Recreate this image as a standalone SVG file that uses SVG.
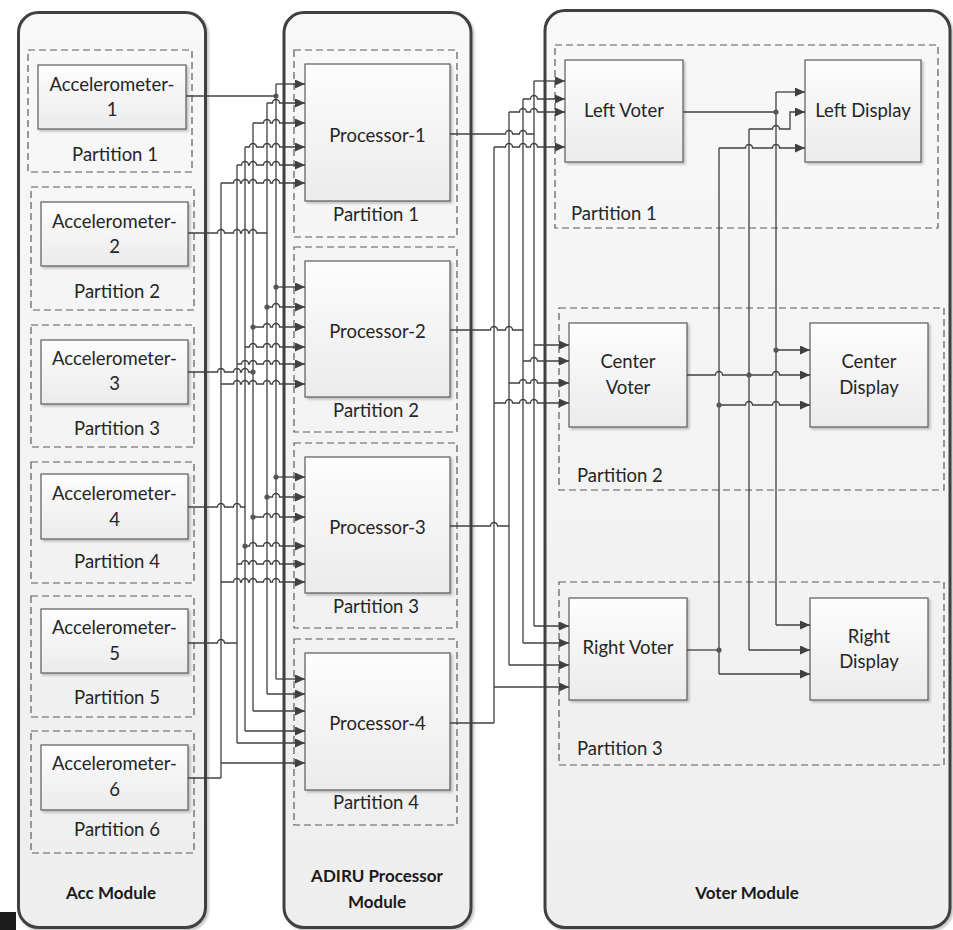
<svg xmlns="http://www.w3.org/2000/svg" width="953" height="930" viewBox="0 0 953 930">
  <defs>
    <linearGradient id="modFill" x1="0" y1="0" x2="0" y2="1">
      <stop offset="0" stop-color="#f8f8f8"/>
      <stop offset="1" stop-color="#eeeeee"/>
    </linearGradient>
    <linearGradient id="boxFill" x1="0" y1="0" x2="0" y2="1">
      <stop offset="0" stop-color="#fdfdfd"/>
      <stop offset="1" stop-color="#ebebeb"/>
    </linearGradient>
    <filter id="shadow" x="-10%" y="-10%" width="130%" height="130%">
      <feDropShadow dx="2" dy="2" stdDeviation="1.2" flood-color="#000" flood-opacity="0.22"/>
    </filter>
    <marker id="ah" viewBox="0 0 10 9" refX="10" refY="4.5" markerWidth="10" markerHeight="9" markerUnits="userSpaceOnUse" orient="auto">
      <path d="M0,0 L10,4.5 L0,9 z" fill="#404040"/>
    </marker>
  </defs>
  <style>
    .module { fill: url(#modFill); stroke: #404040; stroke-width: 3; filter: url(#shadow); }
    .part { fill: none; stroke: #5a5a5a; stroke-width: 1.2; stroke-dasharray: 7 4; }
    .box { fill: url(#boxFill); stroke: #5a5a5a; stroke-width: 1.2; filter: url(#shadow); }
    .lbl { font-family: Lato, "Liberation Sans", sans-serif; font-size: 18.5px; fill: #262626; text-anchor: middle; }
    .lft { text-anchor: start; }
    .title { font-family: Lato, "Liberation Sans", sans-serif; font-size: 17px; font-weight: bold; fill: #1a1a1a; text-anchor: middle; }
    .wire { fill: none; stroke: #404040; stroke-width: 1.3; }
    .arr { marker-end: url(#ah); }
    .dot { fill: #555555; }
  </style>

  <rect x="0" y="912" width="16" height="18" fill="#1c1c1c"/>

  <!-- Acc module and its six accelerometer partitions -->
  <g id="acc-module">
    <rect class="module" x="18.5" y="12.5" width="187" height="915" rx="20"/>
    <text class="title" x="111" y="899">Acc Module</text>
  </g>
  <g id="acc-partition-1">
    <rect class="part" x="28" y="50" width="164" height="122"/>
    <text class="lbl" x="115" y="161">Partition 1</text>
  </g>
  <g id="accelerometer-1">
    <rect class="box" x="38" y="65" width="148" height="64"/>
    <text class="lbl" x="112" y="91">Accelerometer-</text>
    <text class="lbl" x="112" y="116">1</text>
  </g>
  <g id="acc-partition-2">
    <rect class="part" x="31" y="187" width="163" height="123"/>
    <text class="lbl" x="117" y="298">Partition 2</text>
  </g>
  <g id="accelerometer-2">
    <rect class="box" x="41" y="202" width="147" height="64"/>
    <text class="lbl" x="114.5" y="228">Accelerometer-</text>
    <text class="lbl" x="114.5" y="253">2</text>
  </g>
  <g id="acc-partition-3">
    <rect class="part" x="31" y="325" width="163" height="122"/>
    <text class="lbl" x="117" y="435">Partition 3</text>
  </g>
  <g id="accelerometer-3">
    <rect class="box" x="41" y="340" width="147" height="64"/>
    <text class="lbl" x="114.5" y="365">Accelerometer-</text>
    <text class="lbl" x="114.5" y="390">3</text>
  </g>
  <g id="acc-partition-4">
    <rect class="part" x="31" y="462" width="163" height="121"/>
    <text class="lbl" x="117" y="568">Partition 4</text>
  </g>
  <g id="accelerometer-4">
    <rect class="box" x="41" y="474" width="147" height="65"/>
    <text class="lbl" x="114.5" y="500">Accelerometer-</text>
    <text class="lbl" x="114.5" y="526">4</text>
  </g>
  <g id="acc-partition-5">
    <rect class="part" x="31" y="596" width="163" height="121"/>
    <text class="lbl" x="117" y="704">Partition 5</text>
  </g>
  <g id="accelerometer-5">
    <rect class="box" x="41" y="609" width="147" height="64"/>
    <text class="lbl" x="114.5" y="634">Accelerometer-</text>
    <text class="lbl" x="114.5" y="660">5</text>
  </g>
  <g id="acc-partition-6">
    <rect class="part" x="31" y="731" width="163" height="122"/>
    <text class="lbl" x="117" y="836">Partition 6</text>
  </g>
  <g id="accelerometer-6">
    <rect class="box" x="41" y="745" width="147" height="65"/>
    <text class="lbl" x="114.5" y="770">Accelerometer-</text>
    <text class="lbl" x="114.5" y="796">6</text>
  </g>

  <!-- ADIRU processor module -->
  <g id="adiru-module">
    <rect class="module" x="284" y="12.5" width="187" height="915" rx="20"/>
    <text class="title" x="377" y="882">ADIRU Processor</text>
    <text class="title" x="377" y="908">Module</text>
  </g>
  <g id="proc-partition-1">
    <rect class="part" x="294" y="50" width="163" height="187"/>
    <text class="lbl" x="376" y="221">Partition 1</text>
  </g>
  <g id="processor-1">
    <rect class="box" x="305" y="64" width="145" height="137"/>
    <text class="lbl" x="377.5" y="142">Processor-1</text>
  </g>
  <g id="proc-partition-2">
    <rect class="part" x="294" y="247" width="163" height="185"/>
    <text class="lbl" x="376" y="417">Partition 2</text>
  </g>
  <g id="processor-2">
    <rect class="box" x="305" y="261" width="145" height="136"/>
    <text class="lbl" x="377.5" y="338">Processor-2</text>
  </g>
  <g id="proc-partition-3">
    <rect class="part" x="294" y="443" width="163" height="185"/>
    <text class="lbl" x="376" y="613">Partition 3</text>
  </g>
  <g id="processor-3">
    <rect class="box" x="305" y="457" width="145" height="136"/>
    <text class="lbl" x="377.5" y="534">Processor-3</text>
  </g>
  <g id="proc-partition-4">
    <rect class="part" x="294" y="639" width="163" height="186"/>
    <text class="lbl" x="376" y="809">Partition 4</text>
  </g>
  <g id="processor-4">
    <rect class="box" x="305" y="653" width="145" height="137"/>
    <text class="lbl" x="377.5" y="730">Processor-4</text>
  </g>

  <!-- Voter module -->
  <g id="voter-module">
    <rect class="module" x="545" y="10.5" width="405" height="917" rx="20"/>
    <text class="title" x="747" y="899">Voter Module</text>
  </g>
  <g id="voter-partition-1">
    <rect class="part" x="555" y="45" width="383" height="183"/>
    <text class="lbl lft" x="571" y="220">Partition 1</text>
  </g>
  <g id="left-voter">
    <rect class="box" x="565" y="60" width="118" height="102"/>
    <text class="lbl" x="624" y="117">Left Voter</text>
  </g>
  <g id="left-display">
    <rect class="box" x="805" y="60" width="116" height="102"/>
    <text class="lbl" x="863" y="117">Left Display</text>
  </g>
  <g id="voter-partition-2">
    <rect class="part" x="559" y="308" width="385" height="182"/>
    <text class="lbl lft" x="577" y="482">Partition 2</text>
  </g>
  <g id="center-voter">
    <rect class="box" x="569" y="323" width="118" height="104"/>
    <text class="lbl" x="628" y="368">Center</text>
    <text class="lbl" x="628" y="394">Voter</text>
  </g>
  <g id="center-display">
    <rect class="box" x="810" y="323" width="118" height="104"/>
    <text class="lbl" x="869" y="368">Center</text>
    <text class="lbl" x="869" y="394">Display</text>
  </g>
  <g id="voter-partition-3">
    <rect class="part" x="559" y="582" width="385" height="183"/>
    <text class="lbl lft" x="577" y="755">Partition 3</text>
  </g>
  <g id="right-voter">
    <rect class="box" x="569" y="598" width="118" height="102"/>
    <text class="lbl" x="628" y="654">Right Voter</text>
  </g>
  <g id="right-display">
    <rect class="box" x="810" y="598" width="118" height="102"/>
    <text class="lbl" x="869" y="643">Right</text>
    <text class="lbl" x="869" y="668">Display</text>
  </g>

  <!-- Connectors: horizontal runs hop over the vertical buses they cross -->
  <g id="connectors">
    <!-- accelerometer outputs onto their buses -->
    <path class="wire" d="M186 96 H276"/>
    <path class="wire" d="M188 233 H217.5 a3.5 3.5 0 0 1 7 0 H233.5 a3.5 3.5 0 0 1 7 0 H241.5 a3.5 3.5 0 0 1 7 0 H249.5 a3.5 3.5 0 0 1 7 0 H267"/>
    <path class="wire" d="M188 372 H217.5 a3.5 3.5 0 0 1 7 0 H233.5 a3.5 3.5 0 0 1 7 0 H241.5 a3.5 3.5 0 0 1 7 0 H253"/>
    <path class="wire" d="M188 507 H217.5 a3.5 3.5 0 0 1 7 0 H233.5 a3.5 3.5 0 0 1 7 0 H245"/>
    <path class="wire" d="M188 643 H217.5 a3.5 3.5 0 0 1 7 0 H237"/>
    <path class="wire" d="M188 778 H221"/>
    <!-- accelerometer buses -->
    <path class="wire" d="M276 84 V679 M267 103 V694 M253 123 V711 M245 147 V731 M237 165 V743 M221 183 V778"/>
    <!-- Processor-1 inputs -->
    <path class="wire arr" d="M276 84 H305"/>
    <path class="wire arr" d="M267 103 H272.5 a3.5 3.5 0 0 1 7 0 H305"/>
    <path class="wire arr" d="M253 123 H263.5 a3.5 3.5 0 0 1 7 0 H272.5 a3.5 3.5 0 0 1 7 0 H305"/>
    <path class="wire arr" d="M245 147 H249.5 a3.5 3.5 0 0 1 7 0 H263.5 a3.5 3.5 0 0 1 7 0 H272.5 a3.5 3.5 0 0 1 7 0 H305"/>
    <path class="wire arr" d="M237 165 H241.5 a3.5 3.5 0 0 1 7 0 H249.5 a3.5 3.5 0 0 1 7 0 H263.5 a3.5 3.5 0 0 1 7 0 H272.5 a3.5 3.5 0 0 1 7 0 H305"/>
    <path class="wire arr" d="M221 183 H233.5 a3.5 3.5 0 0 1 7 0 H241.5 a3.5 3.5 0 0 1 7 0 H249.5 a3.5 3.5 0 0 1 7 0 H263.5 a3.5 3.5 0 0 1 7 0 H272.5 a3.5 3.5 0 0 1 7 0 H305"/>
    <!-- Processor-2 inputs -->
    <path class="wire arr" d="M276 287 H305"/>
    <path class="wire arr" d="M267 307 H272.5 a3.5 3.5 0 0 1 7 0 H305"/>
    <path class="wire arr" d="M253 327 H263.5 a3.5 3.5 0 0 1 7 0 H272.5 a3.5 3.5 0 0 1 7 0 H305"/>
    <path class="wire arr" d="M245 347 H249.5 a3.5 3.5 0 0 1 7 0 H263.5 a3.5 3.5 0 0 1 7 0 H272.5 a3.5 3.5 0 0 1 7 0 H305"/>
    <path class="wire arr" d="M237 364 H241.5 a3.5 3.5 0 0 1 7 0 H249.5 a3.5 3.5 0 0 1 7 0 H263.5 a3.5 3.5 0 0 1 7 0 H272.5 a3.5 3.5 0 0 1 7 0 H305"/>
    <path class="wire arr" d="M221 384 H233.5 a3.5 3.5 0 0 1 7 0 H241.5 a3.5 3.5 0 0 1 7 0 H249.5 a3.5 3.5 0 0 1 7 0 H263.5 a3.5 3.5 0 0 1 7 0 H272.5 a3.5 3.5 0 0 1 7 0 H305"/>
    <!-- Processor-3 inputs -->
    <path class="wire arr" d="M276 477 H305"/>
    <path class="wire arr" d="M267 497 H272.5 a3.5 3.5 0 0 1 7 0 H305"/>
    <path class="wire arr" d="M253 517 H263.5 a3.5 3.5 0 0 1 7 0 H272.5 a3.5 3.5 0 0 1 7 0 H305"/>
    <path class="wire arr" d="M245 546 H249.5 a3.5 3.5 0 0 1 7 0 H263.5 a3.5 3.5 0 0 1 7 0 H272.5 a3.5 3.5 0 0 1 7 0 H305"/>
    <path class="wire arr" d="M237 564 H241.5 a3.5 3.5 0 0 1 7 0 H249.5 a3.5 3.5 0 0 1 7 0 H263.5 a3.5 3.5 0 0 1 7 0 H272.5 a3.5 3.5 0 0 1 7 0 H305"/>
    <path class="wire arr" d="M221 582 H233.5 a3.5 3.5 0 0 1 7 0 H241.5 a3.5 3.5 0 0 1 7 0 H249.5 a3.5 3.5 0 0 1 7 0 H263.5 a3.5 3.5 0 0 1 7 0 H272.5 a3.5 3.5 0 0 1 7 0 H305"/>
    <!-- Processor-4 inputs -->
    <path class="wire arr" d="M276 679 H305"/>
    <path class="wire arr" d="M267 694 H305"/>
    <path class="wire arr" d="M253 711 H305"/>
    <path class="wire arr" d="M245 731 H305"/>
    <path class="wire arr" d="M237 743 H305"/>
    <path class="wire arr" d="M221 763 H305"/>

    <!-- processor outputs onto their buses -->
    <path class="wire" d="M450 134 H505.5 a3.5 3.5 0 0 1 7 0 H519.5 a3.5 3.5 0 0 1 7 0 H534"/>
    <path class="wire" d="M450 330 H490.5 a3.5 3.5 0 0 1 7 0 H505.5 a3.5 3.5 0 0 1 7 0 H523"/>
    <path class="wire" d="M450 526 H490.5 a3.5 3.5 0 0 1 7 0 H509"/>
    <path class="wire" d="M450 723 H494"/>
    <!-- processor buses -->
    <path class="wire" d="M534 81 V626 M523 99 V643 M509 112 V665 M494 147 V723"/>
    <!-- Left Voter inputs -->
    <path class="wire arr" d="M534 81 H565"/>
    <path class="wire arr" d="M523 99 H530.5 a3.5 3.5 0 0 1 7 0 H565"/>
    <path class="wire arr" d="M509 112 H519.5 a3.5 3.5 0 0 1 7 0 H530.5 a3.5 3.5 0 0 1 7 0 H565"/>
    <path class="wire arr" d="M494 147 H505.5 a3.5 3.5 0 0 1 7 0 H519.5 a3.5 3.5 0 0 1 7 0 H530.5 a3.5 3.5 0 0 1 7 0 H565"/>
    <!-- Center Voter inputs -->
    <path class="wire arr" d="M534 345 H569"/>
    <path class="wire arr" d="M523 361 H530.5 a3.5 3.5 0 0 1 7 0 H569"/>
    <path class="wire arr" d="M509 383 H519.5 a3.5 3.5 0 0 1 7 0 H530.5 a3.5 3.5 0 0 1 7 0 H569"/>
    <path class="wire arr" d="M494 403 H505.5 a3.5 3.5 0 0 1 7 0 H519.5 a3.5 3.5 0 0 1 7 0 H530.5 a3.5 3.5 0 0 1 7 0 H569"/>
    <!-- Right Voter inputs -->
    <path class="wire arr" d="M534 626 H569"/>
    <path class="wire arr" d="M523 643 H569"/>
    <path class="wire arr" d="M509 665 H569"/>
    <path class="wire arr" d="M494 687 H569"/>

    <!-- voter outputs and buses -->
    <path class="wire" d="M683 112 H776"/>
    <path class="wire" d="M687 650 H719"/>
    <path class="wire" d="M776 92 V625 M749 129 V650 M719 148 V674"/>
    <!-- Left Display inputs -->
    <path class="wire arr" d="M776 92 H805"/>
    <path class="wire arr" d="M749 129 H772.5 a3.5 3.5 0 0 1 7 0 H790 V112 H805"/>
    <path class="wire arr" d="M719 148 H745.5 a3.5 3.5 0 0 1 7 0 H772.5 a3.5 3.5 0 0 1 7 0 H805"/>
    <!-- Center Display inputs -->
    <path class="wire arr" d="M776 350 H810"/>
    <path class="wire arr" d="M687 375 H715.5 a3.5 3.5 0 0 1 7 0 H772.5 a3.5 3.5 0 0 1 7 0 H810"/>
    <path class="wire arr" d="M719 405 H745.5 a3.5 3.5 0 0 1 7 0 H772.5 a3.5 3.5 0 0 1 7 0 H810"/>
    <!-- Right Display inputs -->
    <path class="wire arr" d="M776 625 H810"/>
    <path class="wire arr" d="M749 650 H810"/>
    <path class="wire arr" d="M719 674 H810"/>

    <!-- junction dots -->
    <circle class="dot" cx="276" cy="96" r="2.6"/>
    <circle class="dot" cx="276" cy="287" r="2.6"/>
    <circle class="dot" cx="267" cy="307" r="2.6"/>
    <circle class="dot" cx="253" cy="327" r="2.6"/>
    <circle class="dot" cx="253" cy="372" r="2.6"/>
    <circle class="dot" cx="276" cy="477" r="2.6"/>
    <circle class="dot" cx="267" cy="497" r="2.6"/>
    <circle class="dot" cx="253" cy="517" r="2.6"/>
    <circle class="dot" cx="245" cy="546" r="2.6"/>
    <circle class="dot" cx="776" cy="112" r="2.6"/>
    <circle class="dot" cx="776" cy="350" r="2.6"/>
    <circle class="dot" cx="749" cy="375" r="2.6"/>
    <circle class="dot" cx="719" cy="405" r="2.6"/>
    <circle class="dot" cx="719" cy="650" r="2.6"/>
  </g>
</svg>
